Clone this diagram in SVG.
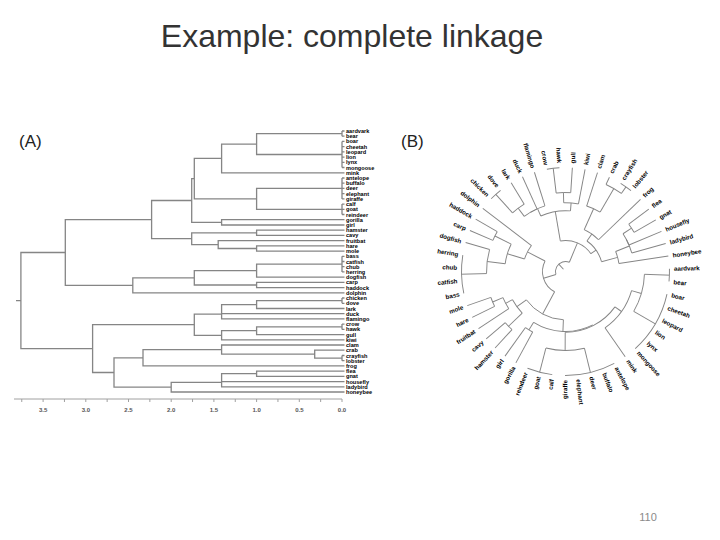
<svg xmlns="http://www.w3.org/2000/svg" width="720" height="540" viewBox="0 0 720 540">
<style>
.ln{fill:none;stroke:#858585;stroke-width:1.3}
.lb{fill:none;stroke:#858585;stroke-width:0.95}
.ax{fill:none;stroke:#a0a0a0;stroke-width:1}
.la{font-family:"Liberation Sans",Arial,sans-serif;font-weight:bold;font-size:5.6px;fill:#000}
.lc{font-family:"Liberation Sans",Arial,sans-serif;font-weight:bold;font-size:6.2px;fill:#000}
.tk{font-family:"Liberation Sans",Arial,sans-serif;font-weight:bold;font-size:6px;fill:#555;text-anchor:middle}
.pn{font-family:"Liberation Sans",Arial,sans-serif;font-size:17px;fill:#222}
.r text{text-anchor:start}
.l text{text-anchor:end}
</style>
<rect width="720" height="540" fill="#fff"/>
<text id="title" x="352" y="47" font-family="'Liberation Sans',Arial,sans-serif" font-size="32" fill="#333" text-anchor="middle">Example: complete linkage</text>
<text id="page" x="648" y="521" font-family="'Liberation Sans',Arial,sans-serif" font-size="11" fill="#8a8a8a" text-anchor="middle">110</text>
<text id="panelA" class="pn" x="19" y="147">(A)</text>
<text id="panelB" class="pn" x="401" y="147">(B)</text>

<g id="connectors-a">
<path class="ln" d="M342 131V136.2M342 141.4V167.5M342 178V198.9M342 204.1V214.5M342 256.3V271.9M342 298V303.3M342 324.1V329.4M342 355.5V360.7"/>
<path class="ln" d="M342 131H344.5M342 136.2H344.5M342 141.4H344.5M342 146.7H344.5M342 151.9H344.5M342 157.1H344.5M342 162.3H344.5M342 167.5H344.5M342 172.8H344.5M342 178H344.5M342 183.2H344.5M342 188.4H344.5M342 193.6H344.5M342 198.9H344.5M342 204.1H344.5M342 209.3H344.5M342 214.5H344.5M342 219.7H344.5M342 225H344.5M342 230.2H344.5M342 235.4H344.5M342 240.6H344.5M342 245.8H344.5M342 251.1H344.5M342 256.3H344.5M342 261.5H344.5M342 266.7H344.5M342 271.9H344.5M342 277.2H344.5M342 282.4H344.5M342 287.6H344.5M342 292.8H344.5M342 298H344.5M342 303.3H344.5M342 308.5H344.5M342 313.7H344.5M342 318.9H344.5M342 324.1H344.5M342 329.4H344.5M342 334.6H344.5M342 339.8H344.5M342 345H344.5M342 350.2H344.5M342 355.5H344.5M342 360.7H344.5M342 365.9H344.5M342 371.1H344.5M342 376.3H344.5M342 381.6H344.5M342 386.8H344.5M342 392H344.5"/>
<path class="ln" d="M342 133.6H256.6V154.5H342M256.6 144.1H221.6V172.8H342M342 188.4H256.6V209.3H342M221.6 158.4H194.3V198.9H256.6M342 219.7H221.6V225H342M194.3 178.6H191.7V222.4H221.6M342 230.2H256.6V235.4H342M342 245.8H256.6V251.1H342M342 240.6H218.2V248.5H256.6M256.6 232.8H191.7V244.6H218.2M191.7 200.5H151.6V238.7H191.7"/>
<path class="ln" d="M342 264.1H256.6V277.2H342M342 282.4H256.6V287.6H342M256.6 270.7H194.3V285H256.6M194.3 277.9H132.8V292.8H342M151.6 219.6H65.3V285.4H132.8"/>
<path class="ln" d="M342 300.7H256.6V308.5H342M256.6 304.6H221.6V313.7H342M221.6 309.2V318.9H342M342 326.8H256.6V334.6H342M256.6 330.7H221.6V339.8H342M221.6 314.1H194.3V335.3H221.6"/>
<path class="ln" d="M342 350.2H314.7V358.1H342M342 345H221.6V354.2H314.7M221.6 349.6H143V365.9H342M342 371.1H256.6V376.3H342M256.6 373.7H221.6V381.6H342M221.6 377.7V386.8H342M221.6 382.3H171.2V392H342M143 357.8H114V387.2H171.2M194.3 324.7H92.6V372.5H114M65.3 252.5H20.9V348.6H92.6M20.9 300.6H16"/>
</g>

<g id="axis-a">
<path class="ax" d="M14 399H342M342 399v3M320.65 399v3M299.3 399v3M277.95 399v3M256.6 399v3M235.25 399v3M213.9 399v3M192.55 399v3M171.2 399v3M149.85 399v3M128.5 399v3M107.15 399v3M85.8 399v3M64.45 399v3M43.1 399v3M21.75 399v3"/>
<text class="tk" x="43.1" y="412">3.5</text>
<text class="tk" x="85.8" y="412">3.0</text>
<text class="tk" x="128.5" y="412">2.5</text>
<text class="tk" x="171.2" y="412">2.0</text>
<text class="tk" x="213.9" y="412">1.5</text>
<text class="tk" x="256.6" y="412">1.0</text>
<text class="tk" x="299.3" y="412">0.5</text>
<text class="tk" x="342" y="412">0.0</text>
</g>

<g id="leaves-a" class="la">
<text id="a1" x="346" y="133">aardvark</text>
<text id="a2" x="346" y="138.2">bear</text>
<text id="a3" x="346" y="143.4">boar</text>
<text id="a4" x="346" y="148.7">cheetah</text>
<text id="a5" x="346" y="153.9">leopard</text>
<text id="a6" x="346" y="159.1">lion</text>
<text id="a7" x="346" y="164.3">lynx</text>
<text id="a8" x="346" y="169.5">mongoose</text>
<text id="a9" x="346" y="174.8">mink</text>
<text id="a10" x="346" y="180">antelope</text>
<text id="a11" x="346" y="185.2">buffalo</text>
<text id="a12" x="346" y="190.4">deer</text>
<text id="a13" x="346" y="195.6">elephant</text>
<text id="a14" x="346" y="200.9">giraffe</text>
<text id="a15" x="346" y="206.1">calf</text>
<text id="a16" x="346" y="211.3">goat</text>
<text id="a17" x="346" y="216.5">reindeer</text>
<text id="a18" x="346" y="221.7">gorilla</text>
<text id="a19" x="346" y="227">girl</text>
<text id="a20" x="346" y="232.2">hamster</text>
<text id="a21" x="346" y="237.4">cavy</text>
<text id="a22" x="346" y="242.6">fruitbat</text>
<text id="a23" x="346" y="247.8">hare</text>
<text id="a24" x="346" y="253.1">mole</text>
<text id="a25" x="346" y="258.3">bass</text>
<text id="a26" x="346" y="263.5">catfish</text>
<text id="a27" x="346" y="268.7">chub</text>
<text id="a28" x="346" y="273.9">herring</text>
<text id="a29" x="346" y="279.2">dogfish</text>
<text id="a30" x="346" y="284.4">carp</text>
<text id="a31" x="346" y="289.6">haddock</text>
<text id="a32" x="346" y="294.8">dolphin</text>
<text id="a33" x="346" y="300">chicken</text>
<text id="a34" x="346" y="305.3">dove</text>
<text id="a35" x="346" y="310.5">lark</text>
<text id="a36" x="346" y="315.7">duck</text>
<text id="a37" x="346" y="320.9">flamingo</text>
<text id="a38" x="346" y="326.1">crow</text>
<text id="a39" x="346" y="331.4">hawk</text>
<text id="a40" x="346" y="336.6">gull</text>
<text id="a41" x="346" y="341.8">kiwi</text>
<text id="a42" x="346" y="347">clam</text>
<text id="a43" x="346" y="352.2">crab</text>
<text id="a44" x="346" y="357.5">crayfish</text>
<text id="a45" x="346" y="362.7">lobster</text>
<text id="a46" x="346" y="367.9">frog</text>
<text id="a47" x="346" y="373.1">flea</text>
<text id="a48" x="346" y="378.3">gnat</text>
<text id="a49" x="346" y="383.6">housefly</text>
<text id="a50" x="346" y="388.8">ladybird</text>
<text id="a51" x="346" y="394">honeybee</text>
</g>

<g transform="translate(565.5,271.5) rotate(-1.5)">
<g id="connectors-b" class="lb">
<circle r="104" pathLength="360" stroke-dasharray="7.06 400" transform="rotate(0)"/>
<circle r="104" pathLength="360" stroke-dasharray="35.29 400" transform="rotate(14.12)"/>
<circle r="104" pathLength="360" stroke-dasharray="28.23 400" transform="rotate(63.53)"/>
<circle r="104" pathLength="360" stroke-dasharray="14.12 400" transform="rotate(98.82)"/>
<circle r="104" pathLength="360" stroke-dasharray="21.18 400" transform="rotate(169.41)"/>
<circle r="104" pathLength="360" stroke-dasharray="7.06 400" transform="rotate(225.88)"/>
<circle r="104" pathLength="360" stroke-dasharray="7.06 400" transform="rotate(261.18)"/>
<circle r="104" pathLength="360" stroke-dasharray="7.06 400" transform="rotate(303.53)"/>
<circle r="79" pathLength="360" stroke-dasharray="28.23 400" transform="rotate(3.53)"/>
<circle r="68.8" pathLength="360" stroke-dasharray="38.82 400" transform="rotate(17.65)"/>
<circle r="79" pathLength="360" stroke-dasharray="28.23 400" transform="rotate(77.65)"/>
<circle r="60.8" pathLength="360" stroke-dasharray="54.7 400" transform="rotate(37.06)"/>
<circle r="68.8" pathLength="360" stroke-dasharray="7.06 400" transform="rotate(120)"/>
<circle r="60" pathLength="360" stroke-dasharray="59.12 400" transform="rotate(64.41)"/>
<circle r="79" pathLength="360" stroke-dasharray="7.06 400" transform="rotate(134.12)"/>
<circle r="79" pathLength="360" stroke-dasharray="7.06 400" transform="rotate(155.29)"/>
<circle r="67.8" pathLength="360" stroke-dasharray="10.58 400" transform="rotate(148.24)"/>
<circle r="60" pathLength="360" stroke-dasharray="15.88 400" transform="rotate(137.65)"/>
<circle r="48.3" pathLength="360" stroke-dasharray="51.62 400" transform="rotate(93.97)"/>
<circle r="79" pathLength="360" stroke-dasharray="17.65 400" transform="rotate(180)"/>
<circle r="79" pathLength="360" stroke-dasharray="7.05 400" transform="rotate(204.71)"/>
<circle r="60.8" pathLength="360" stroke-dasharray="19.42 400" transform="rotate(188.82)"/>
<circle r="42.8" pathLength="360" stroke-dasharray="20.29 400" transform="rotate(198.53)"/>
<circle r="23" pathLength="360" stroke-dasharray="88.9 400" transform="rotate(119.78)"/>
<circle r="79" pathLength="360" stroke-dasharray="10.59 400" transform="rotate(229.41)"/>
<circle r="68.8" pathLength="360" stroke-dasharray="12.35 400" transform="rotate(234.71)"/>
<circle r="68.8" pathLength="360" stroke-dasharray="13.24 400" transform="rotate(240.88)"/>
<circle r="79" pathLength="360" stroke-dasharray="10.58 400" transform="rotate(264.71)"/>
<circle r="68.8" pathLength="360" stroke-dasharray="12.35 400" transform="rotate(270)"/>
<circle r="60.8" pathLength="360" stroke-dasharray="28.68 400" transform="rotate(247.5)"/>
<circle r="96" pathLength="360" stroke-dasharray="10.59 400" transform="rotate(296.47)"/>
<circle r="68.8" pathLength="360" stroke-dasharray="12.36 400" transform="rotate(289.41)"/>
<circle r="45.8" pathLength="360" stroke-dasharray="22.06 400" transform="rotate(295.59)"/>
<circle r="79" pathLength="360" stroke-dasharray="7.05 400" transform="rotate(324.71)"/>
<circle r="68.8" pathLength="360" stroke-dasharray="10.58 400" transform="rotate(328.24)"/>
<circle r="68.8" pathLength="360" stroke-dasharray="12.35 400" transform="rotate(333.53)"/>
<circle r="54" pathLength="360" stroke-dasharray="13.23 400" transform="rotate(339.71)"/>
<circle r="37.3" pathLength="360" stroke-dasharray="39.7 400" transform="rotate(306.62)"/>
<circle r="31" pathLength="360" stroke-dasharray="64.63 400" transform="rotate(261.84)"/>
<circle r="10" pathLength="360" stroke-dasharray="129.93 400" transform="rotate(164.23)"/>
<line x1="68.8" x2="104" transform="rotate(56.47)"/>
<line x1="68.8" x2="104" transform="rotate(120)"/>
<line x1="68.8" x2="104" transform="rotate(127.06)"/>
<line x1="79" x2="104" transform="rotate(134.12)"/>
<line x1="79" x2="104" transform="rotate(141.18)"/>
<line x1="67.8" x2="104" transform="rotate(148.24)"/>
<line x1="79" x2="104" transform="rotate(155.29)"/>
<line x1="79" x2="104" transform="rotate(162.35)"/>
<line x1="79" x2="104" transform="rotate(197.65)"/>
<line x1="79" x2="104" transform="rotate(204.71)"/>
<line x1="79" x2="104" transform="rotate(211.76)"/>
<line x1="42.8" x2="104" transform="rotate(218.82)"/>
<line x1="79" x2="104" transform="rotate(240)"/>
<line x1="68.8" x2="104" transform="rotate(247.06)"/>
<line x1="68.8" x2="104" transform="rotate(254.12)"/>
<line x1="79" x2="104" transform="rotate(275.29)"/>
<line x1="68.8" x2="104" transform="rotate(282.35)"/>
<line x1="68.8" x2="104" transform="rotate(289.41)"/>
<line x1="96" x2="104" transform="rotate(296.47)"/>
<line x1="45.8" x2="104" transform="rotate(317.65)"/>
<line x1="79" x2="104" transform="rotate(324.71)"/>
<line x1="79" x2="104" transform="rotate(331.76)"/>
<line x1="68.8" x2="104" transform="rotate(338.82)"/>
<line x1="68.8" x2="104" transform="rotate(345.88)"/>
<line x1="54" x2="104" transform="rotate(352.94)"/>
<line x1="79" x2="104" transform="rotate(3.53)"/>
<line x1="79" x2="104" transform="rotate(31.76)"/>
<line x1="79" x2="104" transform="rotate(77.65)"/>
<line x1="79" x2="104" transform="rotate(105.88)"/>
<line x1="79" x2="104" transform="rotate(180)"/>
<line x1="79" x2="104" transform="rotate(229.41)"/>
<line x1="79" x2="104" transform="rotate(264.71)"/>
<line x1="96" x2="104" transform="rotate(307.06)"/>
<line x1="68.8" x2="79" transform="rotate(17.65)"/>
<line x1="60.8" x2="68.8" transform="rotate(37.06)"/>
<line x1="60.8" x2="79" transform="rotate(91.76)"/>
<line x1="60" x2="68.8" transform="rotate(123.53)"/>
<line x1="48.3" x2="60" transform="rotate(93.97)"/>
<line x1="60" x2="79" transform="rotate(137.65)"/>
<line x1="60" x2="67.8" transform="rotate(153.53)"/>
<line x1="67.8" x2="79" transform="rotate(158.82)"/>
<line x1="48.3" x2="60" transform="rotate(145.59)"/>
<line x1="23" x2="48.3" transform="rotate(119.78)"/>
<line x1="60.8" x2="79" transform="rotate(188.82)"/>
<line x1="60.8" x2="79" transform="rotate(208.24)"/>
<line x1="42.8" x2="60.8" transform="rotate(198.53)"/>
<line x1="23" x2="42.8" transform="rotate(208.68)"/>
<line x1="10" x2="23" transform="rotate(164.23)"/>
<line x1="68.8" x2="79" transform="rotate(234.71)"/>
<line x1="60.8" x2="68.8" transform="rotate(247.5)"/>
<line x1="68.8" x2="79" transform="rotate(270)"/>
<line x1="60.8" x2="68.8" transform="rotate(276.18)"/>
<line x1="31" x2="60.8" transform="rotate(261.84)"/>
<line x1="68.8" x2="96" transform="rotate(301.77)"/>
<line x1="45.8" x2="68.8" transform="rotate(295.59)"/>
<line x1="37.3" x2="45.8" transform="rotate(306.62)"/>
<line x1="68.8" x2="79" transform="rotate(328.24)"/>
<line x1="54" x2="68.8" transform="rotate(339.71)"/>
<line x1="37.3" x2="54" transform="rotate(346.32)"/>
<line x1="31" x2="37.3" transform="rotate(326.47)"/>
<line x1="10" x2="31" transform="rotate(294.16)"/>
<line x1="3" x2="10" transform="rotate(229.2)"/>
</g>
<g id="leaves-b-right" class="lc r">
<text id="b1" x="108.5" dy="2.2" transform="rotate(0)">aardvark</text>
<text id="b2" x="108.5" dy="2.2" transform="rotate(7.06)">bear</text>
<text id="b3" x="108.5" dy="2.2" transform="rotate(14.12)">boar</text>
<text id="b4" x="108.5" dy="2.2" transform="rotate(21.18)">cheetah</text>
<text id="b5" x="108.5" dy="2.2" transform="rotate(28.24)">leopard</text>
<text id="b6" x="108.5" dy="2.2" transform="rotate(35.29)">lion</text>
<text id="b7" x="108.5" dy="2.2" transform="rotate(42.35)">lynx</text>
<text id="b8" x="108.5" dy="2.2" transform="rotate(49.41)">mongoose</text>
<text id="b9" x="108.5" dy="2.2" transform="rotate(56.47)">mink</text>
<text id="b10" x="108.5" dy="2.2" transform="rotate(63.53)">antelope</text>
<text id="b11" x="108.5" dy="2.2" transform="rotate(70.59)">buffalo</text>
<text id="b12" x="108.5" dy="2.2" transform="rotate(77.65)">deer</text>
<text id="b13" x="108.5" dy="2.2" transform="rotate(84.71)">elephant</text>
<text id="b40" x="108.5" dy="2.2" transform="rotate(275.29)">gull</text>
<text id="b41" x="108.5" dy="2.2" transform="rotate(282.35)">kiwi</text>
<text id="b42" x="108.5" dy="2.2" transform="rotate(289.41)">clam</text>
<text id="b43" x="108.5" dy="2.2" transform="rotate(296.47)">crab</text>
<text id="b44" x="108.5" dy="2.2" transform="rotate(303.53)">crayfish</text>
<text id="b45" x="108.5" dy="2.2" transform="rotate(310.59)">lobster</text>
<text id="b46" x="108.5" dy="2.2" transform="rotate(317.65)">frog</text>
<text id="b47" x="108.5" dy="2.2" transform="rotate(324.71)">flea</text>
<text id="b48" x="108.5" dy="2.2" transform="rotate(331.76)">gnat</text>
<text id="b49" x="108.5" dy="2.2" transform="rotate(338.82)">housefly</text>
<text id="b50" x="108.5" dy="2.2" transform="rotate(345.88)">ladybird</text>
<text id="b51" x="108.5" dy="2.2" transform="rotate(352.94)">honeybee</text>
</g>
<g id="leaves-b-left" class="lc l">
<text id="b14" x="-108.5" dy="2.2" transform="rotate(271.76)">giraffe</text>
<text id="b15" x="-108.5" dy="2.2" transform="rotate(278.82)">calf</text>
<text id="b16" x="-108.5" dy="2.2" transform="rotate(285.88)">goat</text>
<text id="b17" x="-108.5" dy="2.2" transform="rotate(292.94)">reindeer</text>
<text id="b18" x="-108.5" dy="2.2" transform="rotate(300)">gorilla</text>
<text id="b19" x="-108.5" dy="2.2" transform="rotate(307.06)">girl</text>
<text id="b20" x="-108.5" dy="2.2" transform="rotate(314.12)">hamster</text>
<text id="b21" x="-108.5" dy="2.2" transform="rotate(321.18)">cavy</text>
<text id="b22" x="-108.5" dy="2.2" transform="rotate(328.24)">fruitbat</text>
<text id="b23" x="-108.5" dy="2.2" transform="rotate(335.29)">hare</text>
<text id="b24" x="-108.5" dy="2.2" transform="rotate(342.35)">mole</text>
<text id="b25" x="-108.5" dy="2.2" transform="rotate(349.41)">bass</text>
<text id="b26" x="-108.5" dy="2.2" transform="rotate(356.47)">catfish</text>
<text id="b27" x="-108.5" dy="2.2" transform="rotate(3.53)">chub</text>
<text id="b28" x="-108.5" dy="2.2" transform="rotate(10.59)">herring</text>
<text id="b29" x="-108.5" dy="2.2" transform="rotate(17.65)">dogfish</text>
<text id="b30" x="-108.5" dy="2.2" transform="rotate(24.71)">carp</text>
<text id="b31" x="-108.5" dy="2.2" transform="rotate(31.76)">haddock</text>
<text id="b32" x="-108.5" dy="2.2" transform="rotate(38.82)">dolphin</text>
<text id="b33" x="-108.5" dy="2.2" transform="rotate(45.88)">chicken</text>
<text id="b34" x="-108.5" dy="2.2" transform="rotate(52.94)">dove</text>
<text id="b35" x="-108.5" dy="2.2" transform="rotate(60)">lark</text>
<text id="b36" x="-108.5" dy="2.2" transform="rotate(67.06)">duck</text>
<text id="b37" x="-108.5" dy="2.2" transform="rotate(74.12)">flamingo</text>
<text id="b38" x="-108.5" dy="2.2" transform="rotate(81.18)">crow</text>
<text id="b39" x="-108.5" dy="2.2" transform="rotate(88.24)">hawk</text>
</g>
</g>
</svg>
